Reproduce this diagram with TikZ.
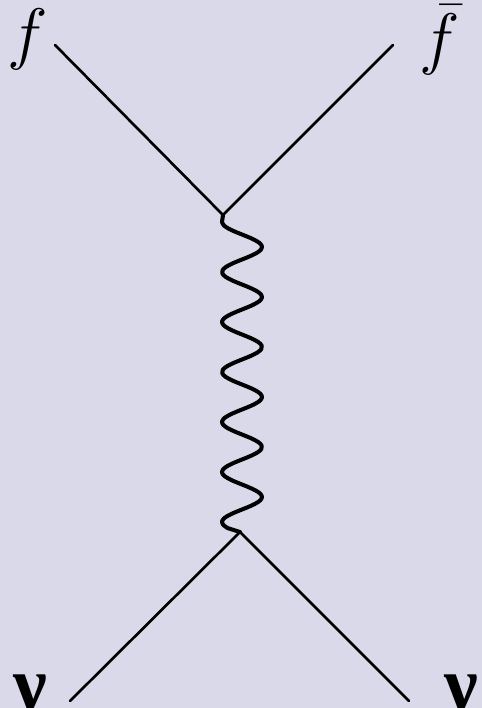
\documentclass[tikz,border=0pt]{standalone}
\usepackage{fontspec}
\newfontfamily\nufont{Liberation Serif}
\definecolor{bgcol}{HTML}{D9D9EA}
\begin{document}
\begin{tikzpicture}[x=.02cm,y=-.02cm,line cap=round,font=\Huge,lbl/.style={inner sep=0,scale=1.57},nu/.style={inner sep=0,anchor=base,font=\nufont\bfseries\fontsize{43}{50}\selectfont},fermion/.style={line width=1.5pt},boson/.style={line width=2.3pt,line join=round}]
\fill[bgcol](0,0)rectangle(482,708);\useasboundingbox(0,0)rectangle(482,708);
% labels
\node[lbl](f)at(28,39){$f$};\node[lbl](fb)at(440,40){$\bar f$};\node[nu](nl)at(30,709){ν};\node[nu](nr)at(461,709){ν};
% vertices and free ends
\coordinate(V1)at(223,215);\coordinate(V2)at(240,532);\coordinate(a)at(55,45);\coordinate(b)at(393,45);\coordinate(c)at(70,701);\coordinate(d)at(409,701);
% fermion lines
\draw[fermion](a)--(V1)--(b) (c)--(V2)--(d);
% boson
\draw[boson](V1)--plot[smooth,domain=222:528,samples=90]({242-20*cos(7.2*(\x-222))},\x)--(V2);
\end{tikzpicture}
\end{document}
